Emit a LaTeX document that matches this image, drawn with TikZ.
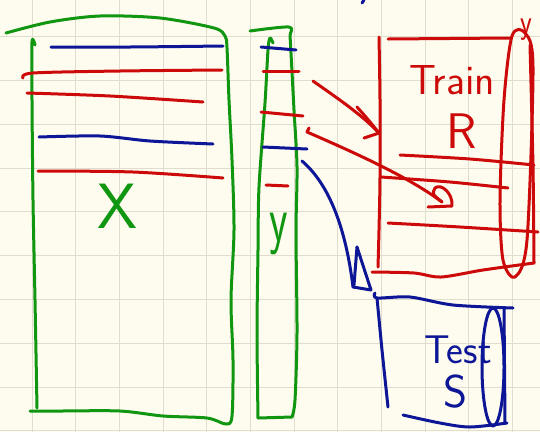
\documentclass[tikz,border=0pt]{standalone}
\usetikzlibrary{calc}
\definecolor{paper}{HTML}{FEFCEF}
\definecolor{gridc}{HTML}{E0DDCE}
\definecolor{penG}{RGB}{16,150,16}
\definecolor{penR}{RGB}{205,10,10}
\definecolor{penB}{RGB}{12,22,150}
\begin{document}
\begin{tikzpicture}[x=1pt,y=-1pt,
  pen/.style={line width=3pt,line cap=round,line join=round},
  gpen/.style={pen,draw=penG},
  rpen/.style={pen,draw=penR},
  bpen/.style={pen,draw=penB},
  hand/.style={inner sep=0pt,font=\sffamily}]
% paper and grid
\fill[paper] (0,0) rectangle (540,432);
\useasboundingbox (0,0) rectangle (540,432);
\foreach \k in {0,...,11} \draw[gridc,line width=1pt] ({32.3+43.65*\k},0) -- ({32.3+43.65*\k},432);
\foreach \k in {0,...,9} \draw[gridc,line width=1pt] (0,{36.7+43.8*\k}) -- (540,{36.7+43.8*\k});

% feature matrix X
\draw[gpen] plot[smooth] coordinates {(6,33) (50,22) (100,16) (160,18) (214,28) (225,36) (227,48) (229,100) (232,160) (234,230) (231,300) (233,360) (232,416) (226,424) (207,418) (163,416) (120,411) (60,411) (30,411)};
\draw[gpen] plot[smooth] coordinates {(35,45) (32,42) (32,100) (33,200) (35,300) (37,408)};
\draw[bpen] plot[smooth] coordinates {(51,47) (130,47) (223,46)};
\draw[rpen] plot[smooth] coordinates {(23,78) (33,73) (120,71) (222,70)};
\draw[rpen] plot[smooth] coordinates {(27,93) (110,96) (203,102)};
\draw[bpen] plot[smooth] coordinates {(39,137) (100,136) (150,141) (213,144)};
\draw[rpen] plot[smooth] coordinates {(38,171) (133,172) (223,178)};
\node[hand,text=penG,font=\sffamily\fontsize{64}{64}\selectfont] (xlab) at (117,206) {X};

% label column y
\draw[gpen] plot[smooth] coordinates {(250,31) (289,27) (290,36) (291,53) (294,110) (297,167) (296,233) (297,333) (295,400) (292,417)};
\draw[gpen] (292,417) -- (258,418);
\draw[gpen] plot[smooth] coordinates {(258,418) (257,333) (258,250) (259,187) (265,103) (268,50) (270,38) (273,43)};
\draw[bpen] (261,47) -- (296,50);
\draw[rpen] (263,71) -- (299,71);
\draw[rpen] (261,112) -- (303,116);
\draw[bpen] (263,147) -- (307,149);
\draw[rpen] (266,185) -- (288,186);
\node[hand,text=penG,font=\sffamily\fontsize{66}{66}\selectfont,xscale=0.65] (ylab) at (279,234) {y};

% training split R
\draw[rpen] plot[smooth] coordinates {(379,37) (380,100) (380,177) (379,230) (378,267)};
\draw[rpen] (388,39) -- (510,38);
\draw[rpen] plot[smooth] coordinates {(372,272) (414,273) (441,277) (483,270) (534,263)};
\draw[rpen] plot[smooth] coordinates {(534,263) (533,167) (530,45)};
\draw[rpen] plot[smooth cycle] coordinates {(512,36) (504,100) (500,200) (503,260) (515,277) (527,240) (533,67) (525,33)};
\draw[rpen] plot[smooth] coordinates {(400,155) (470,159) (534,165)};
\draw[rpen] plot[smooth] coordinates {(381,177) (450,182) (508,188)};
\draw[rpen] plot[smooth] coordinates {(388,223) (460,227) (538,232)};
\node[hand,text=penR,font=\sffamily\fontsize{42}{42}\selectfont] (train) at (452,80) {Train};
\node[hand,text=penR,font=\sffamily\fontsize{50}{50}\selectfont] (rlab) at (462,131) {R};
\node[hand,text=penR,font=\sffamily\fontsize{34}{34}\selectfont,xscale=0.8] (ry) at (526,30) {y};

% test split S
\draw[bpen] plot[smooth] coordinates {(375,293) (377,298) (410,297) (453,305) (513,308)};
\draw[bpen] plot[smooth] coordinates {(377,298) (382,350) (388,407)};
\draw[bpen] plot[smooth] coordinates {(403,415) (440,423) (470,427) (507,423)};
\draw[bpen] (504,308) -- (505,423);
\draw[bpen] (493,367) ellipse [x radius=11,y radius=59];
\node[hand,text=penB,font=\sffamily\fontsize{40}{40}\selectfont] (test) at (458,350) {Test};
\node[hand,text=penB,font=\sffamily\fontsize{46}{46}\selectfont] (slab) at (455,392) {S};
\draw[bpen] (362,3) -- (364,0);

% arrows from rows of the data to the splits
\coordinate (a1s) at (313,81);
\coordinate (a1e) at (379,133);
\coordinate (a2s) at (307,132);
\coordinate (a2e) at (442,202);
\coordinate (a3s) at (302,161);
\coordinate (a3e) at (353,287);
\draw[rpen] (a1s) .. controls (340,100) and (362,115) .. (a1e);
\draw[rpen] (357,107) .. controls (366,117) .. (a1e) -- (364,138);
\draw[rpen] (309,128) -- (a2s) .. controls (360,155) and (410,178) .. (a2e);
\draw[rpen] (428,207) -- (452,206) .. controls (453,193) and (441,183) .. (435,188) .. controls (432,194) .. (a2e);
\draw[bpen] (a3s) .. controls (330,185) and (346,230) .. (a3e);
\draw[bpen] (357,247) -- (354,285);
\draw[bpen] (a3e) -- (371,290) -- (357,247);
\end{tikzpicture}
\end{document}
